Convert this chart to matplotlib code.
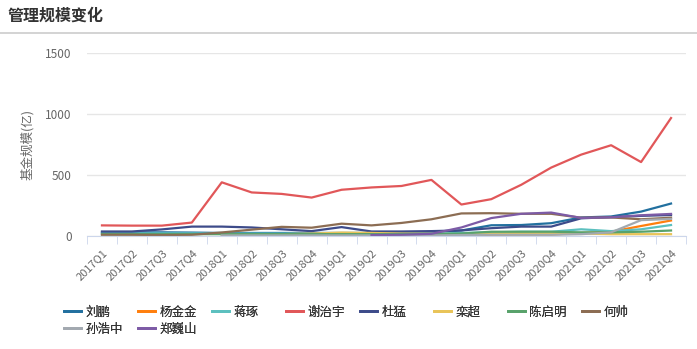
import numpy as np
import matplotlib.pyplot as plt
from matplotlib.lines import Line2D

plt.rcParams['font.family'] = ['Noto Sans CJK SC', 'DejaVu Sans']

nan = np.nan
quarters = [f"{y}Q{q}" for y in range(2017, 2022) for q in range(1, 5)]

managers = ['刘鹏', '杨金金', '蒋琢', '谢治宇', '杜猛', '栾超', '陈启明', '何帅', '孙浩中', '郑巍山']
colors = ['#22709f', '#ff7f0e', '#5cc0bf', '#e15759', '#3d4b8a',
          '#e9c459', '#59a26b', '#8c6d53', '#a2a9b0', '#7d5ba6']

liu_peng = [30, 30, 30, 28, 25, 25, 25, 25, 25, 25, 28, 30, 45, 88, 90, 105, 152, 160, 200, 266]
yang_jinjin = [nan] * 12 + [5, 10, 12, 12, 25, 35, 82, 127]
jiang_qiong = [22, 22, 22, 22, 20, 20, 20, 20, 20, 20, 20, 20, 25, 30, 35, 35, 55, 40, 55, 90]
xie_zhiyu = [87, 85, 85, 110, 440, 357, 345, 315, 379, 398, 410, 460, 258, 302, 420, 561, 667, 744, 606, 967]
du_meng = [37, 37, 54, 77, 77, 70, 55, 40, 73, 37, 37, 40, 46, 64, 77, 77, 145, 155, 165, 172]
luan_chao = [nan] * 4 + [10, 12, 15, 20, 28, 25, 20, 18, 15, 20, 25, 25, 20, 15, 15, 15]
chen_qiming = [15, 15, 15, 15, 15, 15, 15, 15, 15, 15, 15, 15, 20, 35, 35, 35, 30, 30, 35, 45]
he_shuai = [10, 10, 8, 10, 29, 52, 75, 68, 101, 87, 107, 137, 185, 187, 182, 182, 150, 152, 137, 150]
sun_haozhong = [nan] * 4 + [5, 5, 5, 5, 5, 5, 5, 5, 8, 10, 10, 10, 15, 30, 130, 140]
zheng_weishan = [nan] * 9 + [8, 10, 18, 70, 147, 182, 192, 148, 153, 170, 181]

series = [liu_peng, yang_jinjin, jiang_qiong, xie_zhiyu, du_meng,
          luan_chao, chen_qiming, he_shuai, sun_haozhong, zheng_weishan]

W, H = 697, 349
fig = plt.figure(figsize=(W / 100, H / 100), dpi=100)
ax = fig.add_axes([87 / W, 1 - 236 / H, 599 / W, 183 / H])

x = np.arange(len(quarters))
for name, vals, c in zip(managers, series, colors):
    ax.plot(x, vals, color=c, lw=1.6, solid_joinstyle='round')

ax.set_xlim(-0.5, len(quarters) - 0.5)
ax.set_ylim(0, 1500)
ax.set_yticks([0, 500, 1000, 1500])
ax.grid(axis='y', color='#e6e6e6', lw=1)
ax.set_axisbelow(True)

for s in ['top', 'right', 'left']:
    ax.spines[s].set_visible(False)
ax.spines['bottom'].set_color('#ccd6eb')

ax.set_xticks(x)
ax.set_xticklabels(quarters, rotation=45, ha='right', rotation_mode='anchor')
ax.set_xticks(np.arange(len(quarters) + 1) - 0.5, minor=True)
ax.tick_params(axis='x', which='major', length=0, pad=8, labelsize=8, labelcolor='#666666')
ax.tick_params(axis='x', which='minor', length=6, color='#ccd6eb')
ax.tick_params(axis='y', length=0, pad=11, labelsize=8.5, labelcolor='#666666')

ax.set_ylabel('基金规模(亿)', fontsize=9, color='#666666')
ax.yaxis.set_label_coords(-0.089, 0.5)

fig.text(8 / W, 1 - 16 / H, '管理规模变化', fontsize=11.5, fontweight='bold',
         color='#333333', va='center', ha='left')
fig.add_artist(Line2D([0, 1], [1 - 33 / H, 1 - 33 / H], color='#cccccc', lw=1.2))

# one small legend per manager so the entries sit on a fixed grid
for i, (name, c) in enumerate(zip(managers, colors)):
    col, row = i % 8, i // 8
    lx = (64 + 74 * col) / W
    ly = 1 - (312 + 17 * row) / H
    h = Line2D([], [], color=c, lw=2)
    leg = fig.legend(handles=[h], labels=[name], loc='center left',
                     bbox_to_anchor=(lx, ly), frameon=False, fontsize=9,
                     handlelength=1.35, handletextpad=0.35, borderpad=0,
                     borderaxespad=0)
    for t in leg.get_texts():
        t.set_color('#333333')
    fig.add_artist(leg)

fig.savefig('out.png', dpi=100)
